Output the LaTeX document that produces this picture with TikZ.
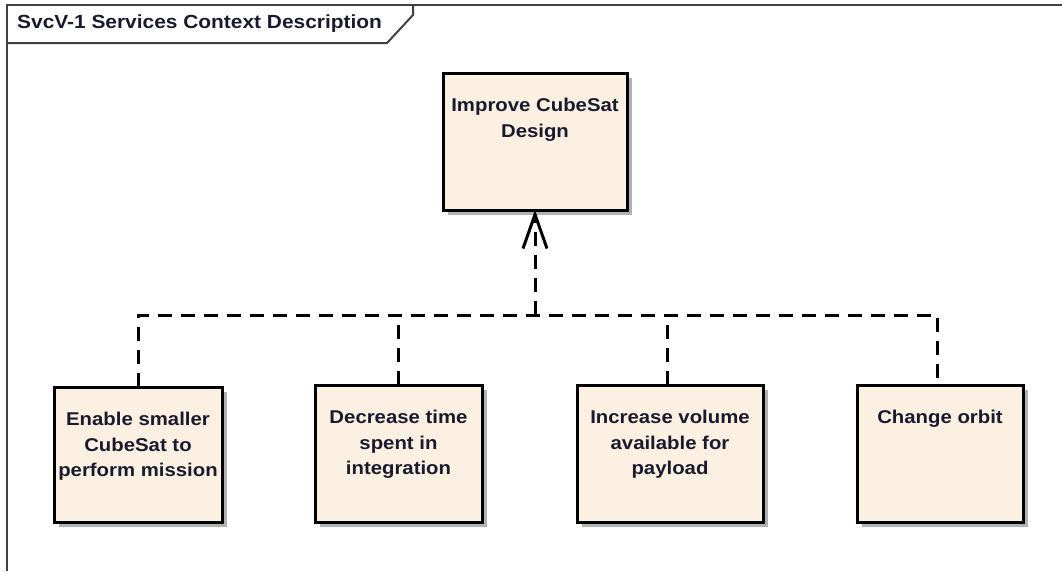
\documentclass[tikz,border=0pt]{standalone}
\usepackage{fontspec}
\setmainfont{Liberation Sans}
\newfontfamily\labelfont[FakeStretch=1.1]{Liberation Sans Bold}
\usetikzlibrary{arrows.meta,positioning}

\definecolor{boxfill}{HTML}{FBF0E1}
\definecolor{framegray}{HTML}{404040}
\definecolor{textdark}{HTML}{1A1A2E}

\tikzset{
  goalbox/.style={draw=black, line width=3pt, fill=boxfill,
    anchor=north west, inner sep=0pt, outer sep=0pt},
  goaltext/.style={anchor=north, align=center, inner sep=0pt, text=textdark,
    font=\labelfont\fontsize{18.5}{25.5}\selectfont},
  boxshadow/.style={fill=black!30},
  dep/.style={draw=black, line width=3pt, dash pattern=on 14pt off 9pt},
  deparrow/.style={dep, -{Straight Barb[length=34pt, width=24pt, line width=3pt]}},
}

% a goal box: name, upper-left corner, width, height, label
\newcommand{\goal}[6]{%
  \fill[boxshadow] (#2+5,#3+5) rectangle (#2+#4+5,#3+#5+5);
  \node[goalbox, minimum width=#4pt, minimum height=#5pt] (#1) at (#2,#3) {};
  \node[goaltext] (#1-label) at ([yshift=-25pt]#1.north) {#6};
}

\begin{document}
\begin{tikzpicture}[x=1pt, y=-1pt]
  \useasboundingbox (0,0) rectangle (1062,571);
  \fill[white] (0,0) rectangle (1062,571);

  % diagram frame and title tab
  \draw[framegray, line width=2pt] (7,571) -- (7,5) -- (1062,5);
  \draw[framegray, line width=2pt] (7,43) -- (387,43) -- (413,15) -- (413,5);
  \node[anchor=west, inner sep=0pt, text=textdark,
        font=\labelfont\fontsize{19}{22}\selectfont] (title) at (17,24)
        {SvcV-1 Services Context Description};

  % goals
  \goal{top}{443}{73}{184}{137}{Improve CubeSat\\Design}
  \goal{g1}{54}{387}{168}{135}{Enable smaller\\CubeSat to\\perform mission}
  \goal{g2}{315}{385}{167}{137}{Decrease time\\spent in\\integration}
  \goal{g3}{577}{385}{186}{137}{Increase volume\\available for\\payload}
  \goal{g4}{857}{385}{166}{137}{Change orbit}

  % dependencies onto the parent goal
  \coordinate (join) at (535,315);
  \draw[dep] (g1.north) |- (join) -| ([xshift=-3pt]g4.north);
  \draw[dep] (g2.north) -- (g2.north |- join);
  \draw[dep] ([xshift=-3pt]g3.north) -- ([xshift=-3pt]g3.north |- join);
  \draw[deparrow] (join) -- (top.south);
\end{tikzpicture}
\end{document}
